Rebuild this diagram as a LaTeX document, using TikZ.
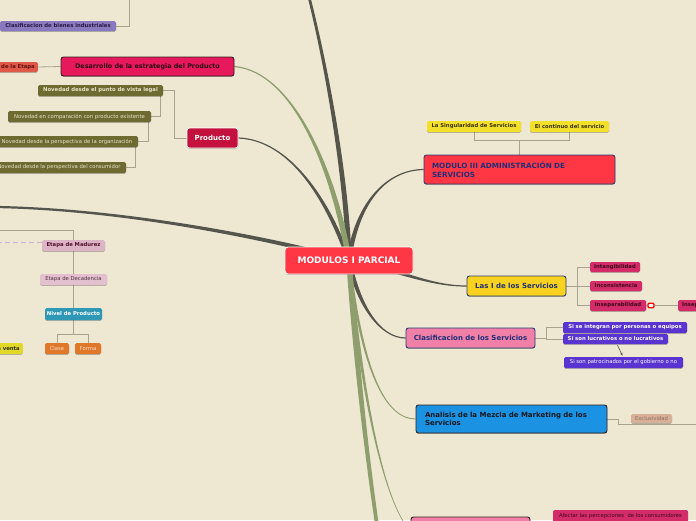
\documentclass[tikz,border=0pt]{standalone}
\usepackage{fontspec}
\setmainfont{DejaVu Sans}
\usetikzlibrary{calc,backgrounds,shadows,arrows.meta}
\definecolor{bgc}{HTML}{EEE8D3}
\definecolor{cDarkL}{HTML}{55554B}
\definecolor{cGreenL}{HTML}{8E9E6C}
\definecolor{cConn}{HTML}{A8A390}
\definecolor{cRed}{HTML}{FF3644}
\definecolor{cPurple}{HTML}{8A78C0}
\definecolor{cPurpleT}{HTML}{2A1A40}
\definecolor{cSalmon}{HTML}{E05848}
\definecolor{cSalmonT}{HTML}{601010}
\definecolor{cCrimson}{HTML}{E8185C}
\definecolor{cCrimT}{HTML}{2A0A10}
\definecolor{cDarkB}{HTML}{302020}
\definecolor{cProd}{HTML}{C4103C}
\definecolor{cOlive}{HTML}{6E6B32}
\definecolor{cOliveT}{HTML}{E8E4C8}
\definecolor{cMauve}{HTML}{DDB4C6}
\definecolor{cMauveT}{HTML}{501028}
\definecolor{cMauve2}{HTML}{E2C0CE}
\definecolor{cMauveT2}{HTML}{503040}
\definecolor{cTeal}{HTML}{2E98B6}
\definecolor{cOrange}{HTML}{E0782A}
\definecolor{cOrangeT}{HTML}{F8DCC8}
\definecolor{cYel}{HTML}{E2D828}
\definecolor{cYelT}{HTML}{303010}
\definecolor{cYel2}{HTML}{F2E02A}
\definecolor{cYel2T}{HTML}{3A3000}
\definecolor{cYellow}{HTML}{F8D21E}
\definecolor{cNavy}{HTML}{2A4070}
\definecolor{cNavyT}{HTML}{203078}
\definecolor{cPinkR}{HTML}{D42C68}
\definecolor{cPinkRT}{HTML}{3A0A1A}
\definecolor{cPinkS}{HTML}{F080A8}
\definecolor{cViolet}{HTML}{5A34D0}
\definecolor{cBlue}{HTML}{1C92E2}
\definecolor{cDarkT}{HTML}{101820}
\definecolor{cTan}{HTML}{D8B098}
\definecolor{cTanT}{HTML}{8C6E5E}
\definecolor{cDashP}{HTML}{C8B0D8}
\newcommand\tbranch[7]{\fill[#1] ($#2+#6$) .. controls ($#3+#6$) and ($#4+#7$) .. ($#5+#7$) -- ($#5-#7$) .. controls ($#4-#7$) and ($#3-#6$) .. ($#2-#6$) -- cycle;}
\begin{document}
\begin{tikzpicture}[x=1pt,y=-1pt,
  box/.style={rounded corners=1.5pt, inner sep=0pt, align=center,
    drop shadow={shadow xshift=0pt, shadow yshift=-0.8pt, opacity=0.25, fill=black}},
  small/.style={box, font=\fontsize{5.3}{6}\selectfont\bfseries},
  smallr/.style={box, font=\fontsize{5.3}{6}\selectfont},
  mainbox/.style={box, rounded corners=2.5pt, line width=0.9pt, font=\fontsize{7}{8.4}\selectfont\bfseries},
  conn/.style={draw=cConn, line width=0.8pt},
  olive/.style={fill=cOlive, text=cOliveT, minimum height=11pt},
  pinkr/.style={small, fill=cPinkR, text=cPinkRT},
  violet/.style={fill=cViolet, text=white}
]
\useasboundingbox (0,0) rectangle (696,520);

% central
\node[mainbox, fill=cRed, draw=white, text=white, minimum width=128pt, minimum height=27pt,
  font=\fontsize{9}{10}\selectfont\bfseries, rounded corners=3pt] (central) at (349,260.5) {MODULOS I PARCIAL};
\coordinate (hub) at (central.center);

% left top
\node[small, fill=cPurple, text=cPurpleT, minimum width=116pt, minimum height=10pt] (bienes) at (58,26) {Clasificacion de bienes industriales};
\node[small, fill=cSalmon, text=cSalmonT, minimum height=10pt, inner xsep=3pt, anchor=east] (etapa0) at (38,67) {a de la Etapa};
\node[mainbox, fill=cCrimson, draw=cDarkB, text=cCrimT, minimum width=173pt, minimum height=19pt,
  font=\fontsize{6.4}{7.5}\selectfont\bfseries] (desarrollo) at (147.5,66.5) {Desarrollo de la estrategia del Producto};
\node[mainbox, fill=cProd, draw=white, text=white, minimum width=51pt, minimum height=20pt] (producto) at (212.5,138) {Producto};

\node[small, olive, minimum width=125pt] (legal) at (100.5,90.5) {Novedad desde el punto de vista legal};
\node[smallr, olive, minimum width=143pt] (existente) at (79.5,116.5) {Novedad en comparación con producto existente};
\node[smallr, olive, minimum width=142pt] (organizacion) at (67,141.5) {Novedad desde la perspectiva de la organización};
\node[smallr, olive, minimum width=134pt] (consumidor) at (59,167.5) {Novedad desde la perspectiva del consumidor};

% left middle
\node[small, fill=cMauve, text=cMauveT, minimum width=63pt, minimum height=11pt] (madurez) at (73.5,245.5) {Etapa de Madurez};
\node[smallr, fill=cMauve2, text=cMauveT2, minimum width=67pt, minimum height=11pt] (decadencia) at (73.5,279.5) {Etapa de Decadencia};
\node[small, fill=cTeal, text=white, minimum width=57pt, minimum height=12pt] (nivel) at (73.5,314) {Nivel de Producto};
\node[smallr, fill=cOrange, text=cOrangeT, minimum width=24pt, minimum height=11pt] (clase) at (57,348.5) {Clase};
\node[smallr, fill=cOrange, text=cOrangeT, minimum width=26pt, minimum height=11pt] (forma) at (88,348.5) {Forma};
\node[small, fill=cYel, text=cYelT, minimum height=11pt, inner xsep=3pt, anchor=east] (venta) at (23,348.5) {a venta};

% right
\node[mainbox, fill=cRed, draw=cNavy, text=cNavyT, minimum width=191pt, minimum height=29pt,
  text width=175pt, align=left, font=\fontsize{7.2}{8.6}\selectfont\bfseries] (modulo) at (519.5,169.5) {MODULO III ADMINISTRACIÓN DE\\SERVICIOS};
\node[small, fill=cYel2, text=cYel2T, minimum width=94pt, minimum height=11pt] (singular) at (474,126.5) {La Singularidad de Servicios};
\node[small, fill=cYel2, text=cYel2T, minimum width=79pt, minimum height=11pt] (continuo) at (569.5,126.5) {El continuo del servicio};

\node[mainbox, fill=cYellow, draw=cNavy, text=cNavyT, minimum width=99pt, minimum height=20pt] (lasI) at (516.5,286) {Las I de los Servicios};
\node[pinkr, minimum width=50pt, minimum height=10pt] (intang) at (615,267) {Intangibilidad};
\node[pinkr, minimum width=52pt, minimum height=10pt] (incons) at (616,286) {Inconsistencia};
\node[pinkr, minimum width=56pt, minimum height=11pt] (insep) at (618,305.5) {Inseparabilidad};
\node[draw=red, fill=white, line width=1.4pt, rounded corners=1.2pt, minimum width=6pt, minimum height=4.5pt, inner sep=0pt] (dot) at (651,305.5) {};
\node[pinkr, minimum height=11pt, inner xsep=4pt, anchor=west] (insep2) at (678,305.5) {Inseparabilidad};

\node[mainbox, fill=cPinkS, draw=cNavy, text=cNavyT, minimum width=129pt, minimum height=20pt] (classerv) at (470.5,338) {Clasificacion de los Servicios};
\node[small, violet, minimum width=124pt, minimum height=11pt] (integran) at (625,327.5) {Si se integran por personas o equipos};
\node[small, violet, minimum width=105pt, minimum height=10pt] (lucrat) at (615.5,339) {Si son lucrativos o no lucrativos};
\node[smallr, violet, minimum width=119pt, minimum height=11pt] (patroc) at (623.5,362.5) {Si son patrocinados por el gobierno o no};

\node[mainbox, fill=cBlue, draw=cDarkB, text=cDarkT, minimum width=191pt, minimum height=28pt,
  text width=173pt, align=left] (analisis) at (511.5,419) {Analisis de la Mezcla de Marketing de los\\Servicios};
\node[smallr, fill=cTan, text=cTanT, minimum width=41pt, minimum height=9pt] (exclus) at (651.5,418.5) {Exclusividad};

\node[mainbox, fill=cPinkS, draw=cDarkB, minimum width=119pt, minimum height=28pt] (bottompink) at (470.5,531) {};
\node[smallr, fill=cPinkR, text=cPinkRT, minimum width=135pt, minimum height=12pt] (afectar) at (620.5,516) {Afectar las percepciones~ de los consumidores};

\draw[cDarkL, line width=0.6pt, -{Stealth[length=3pt,width=2.5pt]}] ($(lucrat.south)+(2,1)$) -- ($(patroc.north)+(-1,-1)$);

% free ends
\coordinate (topend) at (309,-3);
\coordinate (leftend) at (-3,207);
\coordinate (downend) at (377,525);
\coordinate (bientop) at (129,-3);
\coordinate (leftbar) at (-3,230);
\coordinate (dashstart) at (-3,242.5);
\coordinate (exclend) at (700,424);

\begin{pgfonlayer}{background}
\fill[bgc] (0,0) rectangle (696,520);
% tapered branches
\tbranch{cDarkL}{(hub)}{(346,170)}{(325,60)}{(topend)}{(2.6,0)}{(1.4,0)}
\tbranch{cDarkL}{(hub)}{(315,250)}{(150,210)}{(leftend)}{(0,2.3)}{(0,1.1)}
\tbranch{cDarkL}{(hub)}{(328,200)}{(290,140)}{(producto.east)}{(2.3,0)}{(0,-0.6)}
\tbranch{cGreenL}{(hub)}{(335,175)}{(295,72)}{(desarrollo.east)}{(2.8,0)}{(0,-0.6)}
\tbranch{cDarkL}{(hub)}{(356,205)}{(385,170)}{(modulo.west)}{(2.3,0)}{(0,0.6)}
\tbranch{cDarkL}{(hub)}{(405,272)}{(430,286)}{(lasI.west)}{(0,2.1)}{(0,0.6)}
\tbranch{cDarkL}{(hub)}{(358,305)}{(380,338)}{(classerv.west)}{(2.3,0)}{(0,-0.6)}
\tbranch{cGreenL}{(hub)}{(362,370)}{(385,419)}{(analisis.west)}{(1.4,0)}{(0,-0.45)}
\tbranch{cGreenL}{(hub)}{(356,360)}{(366,450)}{(downend)}{(2.8,0)}{(1.9,0)}
\tbranch{cGreenL}{(hub)}{(362,400)}{(385,505)}{(bottompink.west)}{(1.7,0)}{(0,-0.6)}
% connectors
\draw[conn] (bientop) |- (bienes.east);
\draw[conn] (etapa0.east) -- (desarrollo.west);
\draw[conn] (producto.west) -- ++(-12,0) |- (legal.east);
\draw[conn] ($(legal.south east)+(-3,0)$) |- (existente.east);
\draw[conn] ($(existente.south east)+(-3,0)$) |- (organizacion.east);
\draw[conn] ($(organizacion.south east)+(-3,0)$) |- (consumidor.east);
\draw[conn] (leftbar) -| (nivel.north);
\draw[cDashP, line width=0.8pt, dash pattern=on 5pt off 3pt] (dashstart) -- (dashstart -| madurez.west);
\draw[conn] (nivel.south) -- ++(0,14) coordinate (nj);
\draw[conn] (nj) -| (clase.north);
\draw[conn] (nj) -| (forma.north);
\draw[conn] (modulo.north) -- ++(0,-14) coordinate (mj);
\draw[conn] (mj) -| (singular.south);
\draw[conn] (mj) -| (continuo.south);
\draw[conn] (lasI.east) -- ++(11,0) coordinate (lj);
\draw[conn] (lj) |- (intang.west);
\draw[conn] (lj) -- (incons.west);
\draw[conn] (lj) |- (insep.west);
\draw[conn] (insep.east) -- (dot.west);
\draw[conn] (dot.east) -- (insep2.west);
\draw[conn] (classerv.east) -- ++(11,0) coordinate (cj);
\draw[conn] (cj) |- (integran.west);
\draw[conn] (cj) |- (lucrat.west);
\draw[conn] (analisis.east) -- ++(11,0) -- ++(0,5) -- (exclend);
\end{pgfonlayer}
\end{tikzpicture}
\end{document}
